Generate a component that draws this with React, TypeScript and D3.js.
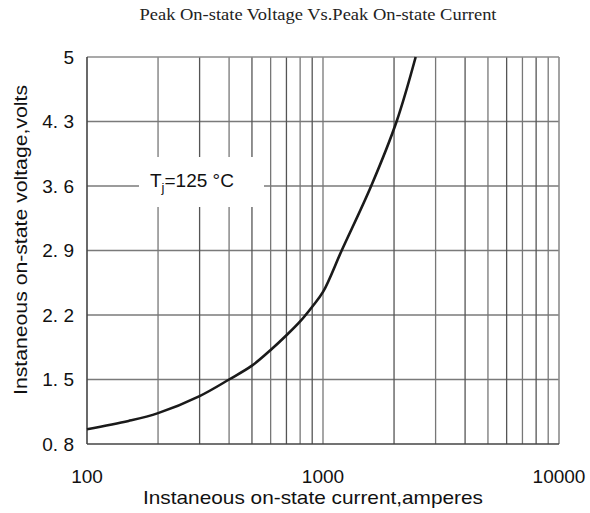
import React, { useEffect, useRef } from "react";
import * as d3 from "d3";

// curve (log current axis)
const currentAmps = [100, 150, 200, 300, 400, 500, 600, 700, 800, 900, 1000, 1200, 1600, 2050, 2470];
const voltageVolts = [0.96, 1.05, 1.135, 1.32, 1.5, 1.65, 1.82, 1.98, 2.13, 2.29, 2.45, 2.9, 3.6, 4.3, 5.0];

const yTicks = [0.8, 1.5, 2.2, 2.9, 3.6, 4.3, 5];
const xTickLabels = [100, 1000, 10000];
const xGrid = [200, 300, 400, 500, 600, 700, 800, 900, 1000, 2000, 3000, 4000, 5000, 6000, 7000, 8000, 9000];

const chartTitle = "Peak On-state Voltage Vs.Peak On-state Current";
const xTitle = "Instaneous on-state current,amperes";
const yTitle = "Instaneous on-state voltage,volts";

const W = 590;
const H = 513;
const margin = { top: 57, right: 31, bottom: 69, left: 87 };

function Chart() {
  const ref = useRef<SVGSVGElement>(null);

  useEffect(() => {
    const svg = d3.select(ref.current);
    svg.selectAll("*").remove();

    const width = W - margin.left - margin.right;
    const height = H - margin.top - margin.bottom;

    const x = d3.scaleLog().domain([100, 10000]).range([0, width]);
    const y = d3.scaleLinear().domain([0.8, 5]).range([height, 0]);

    svg
      .append("text")
      .attr("x", 318)
      .attr("y", 20)
      .attr("text-anchor", "middle")
      .attr("font-family", "Liberation Serif, serif")
      .attr("font-size", "16px")
      .attr("fill", "#222")
      .attr("textLength", 357)
      .attr("lengthAdjust", "spacingAndGlyphs")
      .text(chartTitle);

    const g = svg.append("g").attr("transform", `translate(${margin.left},${margin.top})`);

    // grid
    g.append("g")
      .selectAll("line")
      .data(yTicks.slice(1, -1))
      .enter()
      .append("line")
      .attr("x1", 0)
      .attr("x2", width)
      .attr("y1", (d) => y(d))
      .attr("y2", (d) => y(d))
      .attr("stroke", "#7a7a7a")
      .attr("stroke-width", 1.3);

    g.append("g")
      .selectAll("line")
      .data(xGrid)
      .enter()
      .append("line")
      .attr("x1", (d) => x(d))
      .attr("x2", (d) => x(d))
      .attr("y1", 0)
      .attr("y2", height)
      .attr("stroke", (d, i) => (i % 2 ? "#555" : "#777"))
      .attr("stroke-width", 1.3);

    // border
    g.append("line").attr("x1", 0).attr("x2", width).attr("y1", 0).attr("y2", 0)
      .attr("stroke", "#8c8c8c").attr("stroke-width", 1.6);
    g.append("line").attr("x1", width).attr("x2", width).attr("y1", 0).attr("y2", height)
      .attr("stroke", "#8c8c8c").attr("stroke-width", 1.6);
    g.append("line").attr("x1", 0).attr("x2", width).attr("y1", height).attr("y2", height)
      .attr("stroke", "#444").attr("stroke-width", 1.6);
    g.append("line").attr("x1", 0).attr("x2", 0).attr("y1", 0).attr("y2", height)
      .attr("stroke", "#444").attr("stroke-width", 1.6);

    // label box hides the grid behind the temperature note
    g.append("rect")
      .attr("x", 139 - margin.left)
      .attr("y", 157 - margin.top)
      .attr("width", 125)
      .attr("height", 50)
      .attr("fill", "#fff");

    const note = g
      .append("text")
      .attr("x", 150 - margin.left)
      .attr("y", 187 - margin.top)
      .attr("font-family", "Liberation Sans, Arial, sans-serif")
      .attr("font-size", "19px")
      .attr("fill", "#111");
    note.append("tspan").text("T");
    note.append("tspan").attr("font-size", "13px").attr("dy", 5).text("j");
    note.append("tspan").attr("dy", -5).text("=125 °C");

    // curve
    const line = d3
      .line<number>()
      .x((d, i) => x(currentAmps[i]))
      .y((d) => y(d))
      .curve(d3.curveCatmullRom.alpha(0.5));

    g.append("path")
      .datum(voltageVolts)
      .attr("d", line)
      .attr("fill", "none")
      .attr("stroke", "#1a1a1a")
      .attr("stroke-width", 2.6);

    // y tick labels
    g.append("g")
      .selectAll("text")
      .data(yTicks)
      .enter()
      .append("text")
      .attr("x", -13)
      .attr("y", (d) => y(d))
      .attr("dy", "0.36em")
      .attr("text-anchor", "end")
      .attr("font-family", "Liberation Sans, Arial, sans-serif")
      .attr("font-size", "19px")
      .attr("fill", "#111")
      .text((d) => (d === 5 ? "5" : d.toFixed(1).replace(".", ". ")));

    // x tick labels
    g.append("g")
      .selectAll("text")
      .data(xTickLabels)
      .enter()
      .append("text")
      .attr("x", (d) => x(d))
      .attr("y", height + 39)
      .attr("text-anchor", "middle")
      .attr("font-family", "Liberation Sans, Arial, sans-serif")
      .attr("font-size", "19px")
      .attr("fill", "#111")
      .text((d) => String(d));

    svg
      .append("text")
      .attr("x", 313)
      .attr("y", 504)
      .attr("text-anchor", "middle")
      .attr("font-family", "Liberation Sans, Arial, sans-serif")
      .attr("font-size", "19px")
      .attr("fill", "#111")
      .attr("textLength", 340)
      .attr("lengthAdjust", "spacingAndGlyphs")
      .text(xTitle);

    svg
      .append("text")
      .attr("transform", "translate(27,240) rotate(-90)")
      .attr("text-anchor", "middle")
      .attr("font-family", "Liberation Sans, Arial, sans-serif")
      .attr("font-size", "19px")
      .attr("fill", "#111")
      .attr("textLength", 310)
      .attr("lengthAdjust", "spacingAndGlyphs")
      .text(yTitle);
  }, []);

  return (
    <svg
      ref={ref}
      width={W}
      height={H}
      style={{ position: "absolute", left: 0, top: 0, background: "#fff" }}
    />
  );
}

export default function App() {
  return <Chart />;
}
